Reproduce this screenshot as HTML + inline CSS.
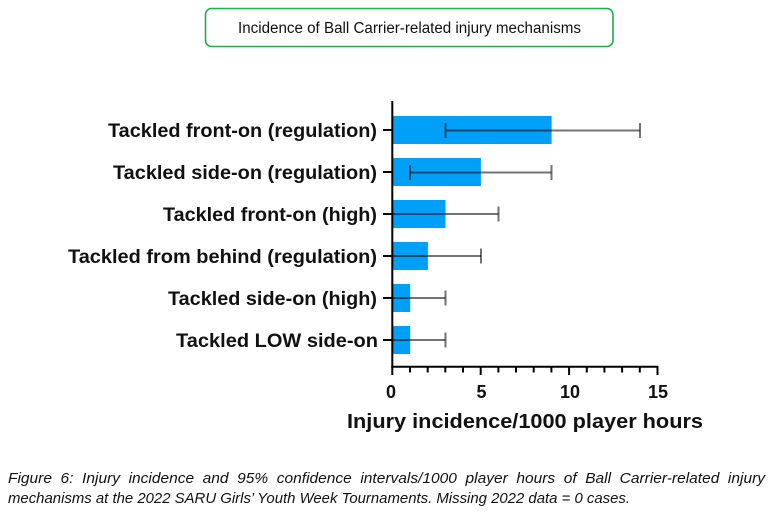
<!DOCTYPE html>
<html><head><meta charset="utf-8"><style>
html,body{margin:0;padding:0;background:#fff;}
svg{display:block;}
</style></head><body>
<svg width="773" height="520" viewBox="0 0 773 520" xmlns="http://www.w3.org/2000/svg">
<rect x="0" y="0" width="773" height="520" fill="#fff"/>
<!-- title box -->
<rect x="205.5" y="8.5" width="407.5" height="38" rx="6" ry="6" fill="#fff" stroke="#1fae4b" stroke-width="1.6"/>
<text x="409.5" y="33" text-anchor="middle" font-family="Liberation Sans, sans-serif" font-size="15.5" fill="#111" textLength="343" lengthAdjust="spacingAndGlyphs">Incidence of Ball Carrier-related injury mechanisms</text>

<!-- bars -->
<g fill="#00a0f8">
<rect x="393" y="116" width="158.6" height="28"/>
<rect x="393" y="158" width="87.9" height="28"/>
<rect x="393" y="200" width="52.5" height="28"/>
<rect x="393" y="242" width="34.9" height="28"/>
<rect x="393" y="284" width="17.2" height="28"/>
<rect x="393" y="326" width="17.2" height="28"/>
</g>

<!-- error bars -->
<g stroke="#000" stroke-opacity="0.55" stroke-width="2" fill="none">
<line x1="445.5" y1="130.5" x2="640" y2="130.5"/>
<line x1="445.5" y1="123" x2="445.5" y2="138"/>
<line x1="640" y1="123" x2="640" y2="138"/>

<line x1="410" y1="172.5" x2="551.5" y2="172.5"/>
<line x1="410" y1="165" x2="410" y2="180"/>
<line x1="551.5" y1="165" x2="551.5" y2="180"/>

<line x1="393" y1="214" x2="498.5" y2="214"/>
<line x1="498.5" y1="206.5" x2="498.5" y2="221.5"/>

<line x1="393" y1="256" x2="481" y2="256"/>
<line x1="481" y1="248.5" x2="481" y2="263.5"/>

<line x1="393" y1="298" x2="445.5" y2="298"/>
<line x1="445.5" y1="290.5" x2="445.5" y2="305.5"/>

<line x1="393" y1="340" x2="445.5" y2="340"/>
<line x1="445.5" y1="332.5" x2="445.5" y2="347.5"/>
</g>

<!-- axes -->
<g stroke="#000" stroke-width="2" fill="none">
<line x1="392.3" y1="101" x2="392.3" y2="367.5"/>
<line x1="391.3" y1="366.8" x2="658.5" y2="366.8"/>
<!-- y ticks -->
<line x1="383" y1="130" x2="392" y2="130"/>
<line x1="383" y1="172" x2="392" y2="172"/>
<line x1="383" y1="214" x2="392" y2="214"/>
<line x1="383" y1="256" x2="392" y2="256"/>
<line x1="383" y1="298" x2="392" y2="298"/>
<line x1="383" y1="340" x2="392" y2="340"/>
<!-- x ticks -->
<line x1="392.3" y1="366" x2="392.3" y2="375"/>
<line x1="410" y1="366" x2="410" y2="372.5"/>
<line x1="427.7" y1="366" x2="427.7" y2="372.5"/>
<line x1="445.3" y1="366" x2="445.3" y2="372.5"/>
<line x1="463" y1="366" x2="463" y2="372.5"/>
<line x1="480.7" y1="366" x2="480.7" y2="375"/>
<line x1="498.4" y1="366" x2="498.4" y2="372.5"/>
<line x1="516" y1="366" x2="516" y2="372.5"/>
<line x1="533.7" y1="366" x2="533.7" y2="372.5"/>
<line x1="551.4" y1="366" x2="551.4" y2="372.5"/>
<line x1="569.1" y1="366" x2="569.1" y2="375"/>
<line x1="586.8" y1="366" x2="586.8" y2="372.5"/>
<line x1="604.4" y1="366" x2="604.4" y2="372.5"/>
<line x1="622.1" y1="366" x2="622.1" y2="372.5"/>
<line x1="639.8" y1="366" x2="639.8" y2="372.5"/>
<line x1="657.5" y1="366" x2="657.5" y2="375"/>
</g>

<!-- y labels -->
<g font-family="Liberation Sans, sans-serif" font-weight="bold" font-size="19.5" fill="#111" text-anchor="end">
<text x="377" y="137" textLength="269" lengthAdjust="spacingAndGlyphs">Tackled front-on (regulation)</text>
<text x="377" y="179" textLength="264" lengthAdjust="spacingAndGlyphs">Tackled side-on (regulation)</text>
<text x="377" y="221" textLength="214" lengthAdjust="spacingAndGlyphs">Tackled front-on (high)</text>
<text x="377" y="263" textLength="309" lengthAdjust="spacingAndGlyphs">Tackled from behind (regulation)</text>
<text x="377" y="305" textLength="209" lengthAdjust="spacingAndGlyphs">Tackled side-on (high)</text>
<text x="378" y="347" textLength="202" lengthAdjust="spacingAndGlyphs">Tackled LOW side-on</text>
</g>

<!-- x tick labels -->
<g font-family="Liberation Sans, sans-serif" font-weight="bold" font-size="18" fill="#111" text-anchor="middle">
<text x="391" y="398">0</text>
<text x="481.5" y="398">5</text>
<text x="570" y="398">10</text>
<text x="658" y="398">15</text>
</g>

<!-- x label -->
<text x="525" y="428" text-anchor="middle" font-family="Liberation Sans, sans-serif" font-weight="bold" font-size="20" fill="#111" textLength="356" lengthAdjust="spacingAndGlyphs">Injury incidence/1000 player hours</text>

<!-- caption -->
<g font-family="Liberation Sans, sans-serif" font-style="italic" font-size="14.5" fill="#111">
<text x="8" y="483" word-spacing="4" textLength="757" lengthAdjust="spacingAndGlyphs">Figure 6: Injury incidence and 95% confidence intervals/1000 player hours of Ball Carrier-related injury</text>
<text x="8" y="503" textLength="622" lengthAdjust="spacingAndGlyphs">mechanisms at the 2022 SARU Girls’ Youth Week Tournaments. Missing 2022 data = 0 cases.</text>
</g>
</svg>
</body></html>
